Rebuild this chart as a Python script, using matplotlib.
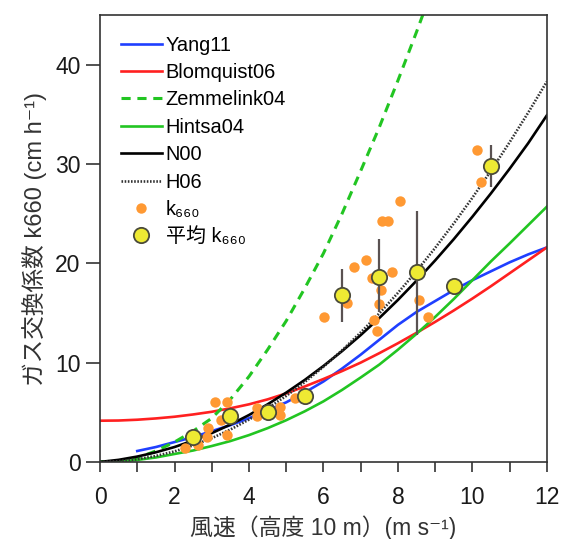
import matplotlib
matplotlib.use('Agg')
import matplotlib.pyplot as plt

plt.rcParams['font.family'] = ['Liberation Sans', 'Noto Sans CJK JP', 'DejaVu Sans']

# --- curvas de modelo ---
u_half = [0, 0.5, 1, 1.5, 2, 2.5, 3, 3.5, 4, 4.5, 5, 5.5, 6, 6.5, 7, 7.5, 8, 8.5,
          9, 9.5, 10, 10.5, 11, 11.5, 12]
yang_u = u_half[2:]
yang_k = [1.1, 1.5, 2.0, 2.5, 3.1, 3.7, 4.4, 5.2, 6.0, 7.0, 8.1, 9.4, 10.8, 12.3,
          13.8, 15.1, 16.2, 17.3, 18.3, 19.2, 20.1, 20.9, 21.6]
blomquist_k = [4.15, 4.17, 4.25, 4.38, 4.55, 4.78, 5.05, 5.4, 5.8, 6.3, 6.9, 7.6, 8.35,
               9.15, 10.0, 10.95, 11.95, 13.0, 14.1, 15.25, 16.45, 17.7, 19.0, 20.3, 21.6]
zemmelink_u = u_half[:19]
zemmelink_k = [0.0, 0.1, 0.4, 1.1, 2.0, 3.1, 4.4, 6.3, 8.6, 11.3, 14.2, 17.5, 21.0,
               25.0, 29.3, 33.7, 38.4, 43.3, 48.4]
hintsa_k = [0.0, 0.05, 0.2, 0.45, 0.8, 1.15, 1.6, 2.1, 2.7, 3.4, 4.2, 5.1, 6.1, 7.25,
            8.5, 9.8, 11.3, 12.9, 14.6, 16.4, 18.3, 20.2, 22.0, 23.85, 25.7]
n00_k = [0.0, 0.21, 0.54, 0.97, 1.50, 2.15, 2.90, 3.76, 4.72, 5.80, 6.98, 8.26, 9.66,
         11.16, 12.77, 14.49, 16.31, 18.25, 20.29, 22.43, 24.69, 27.05, 29.52, 32.10, 34.9]
h06_k = [0.0, 0.07, 0.27, 0.60, 1.06, 1.66, 2.39, 3.26, 4.26, 5.39, 6.65, 8.05, 9.58,
         11.24, 13.03, 14.96, 17.02, 19.22, 21.55, 24.01, 26.6, 29.33, 32.19, 35.18, 38.3]

# --- k660 individuais ---
obs_u = [2.28, 2.64, 2.87, 2.91, 3.09, 3.40, 3.24, 3.40, 4.21, 4.21, 4.84, 4.84, 5.24,
         6.02, 6.63, 6.83, 7.15, 7.30, 7.37, 7.44, 7.49, 7.54, 7.57, 7.73, 7.84, 8.06,
         8.58, 8.82, 10.12, 10.22]
obs_k = [1.4, 1.7, 2.5, 3.4, 6.0, 6.0, 4.2, 2.7, 5.4, 4.6, 5.5, 4.7, 6.4,
         14.6, 16.0, 19.6, 20.3, 18.5, 14.3, 13.2, 15.9, 17.3, 24.3, 24.3, 19.1, 26.3,
         16.3, 14.6, 31.4, 28.2]

# --- médias com barras de erro ---
mean_u = [2.5, 3.5, 4.5, 5.5, 6.5, 7.5, 8.5, 9.5, 10.5]
mean_k = [2.55, 4.6, 5.05, 6.6, 16.8, 18.6, 19.1, 17.7, 29.8]
err_lo = [0.0, 0.0, 0.0, 0.0, 2.7, 3.5, 6.3, 0.0, 2.1]
err_hi = [0.0, 0.0, 0.0, 0.0, 2.6, 3.9, 6.2, 0.0, 2.1]

fig = plt.figure(figsize=(5.62, 5.39), dpi=100)
ax = fig.add_axes([0.178, 0.143, 0.795, 0.829])

ax.plot(yang_u, yang_k, color='#1f3fff', lw=1.9, label='Yang11')
ax.plot(u_half, blomquist_k, color='#ff2020', lw=1.9, label='Blomquist06')
ax.plot(zemmelink_u, zemmelink_k, color='#22c522', lw=2.2, ls=(0, (3, 2.2)), label='Zemmelink04')
ax.plot(u_half, hintsa_k, color='#22c522', lw=1.9, label='Hintsa04')
ax.plot(u_half, n00_k, color='black', lw=1.9, label='N00')
ax.plot(u_half, h06_k, color='#333333', lw=1.9, ls=(0, (0.6, 0.6)), label='H06')

ax.plot(obs_u, obs_k, 'o', color='#ff9933', ms=7.5, mec='none', label='k₆₆₀')
ax.errorbar(mean_u, mean_k, yerr=[err_lo, err_hi], fmt='none', ecolor='#5a5252', elinewidth=1.6, capsize=0)
ax.plot(mean_u, mean_k, 'o', color='#eeea33', ms=11, mec='#4a4a3a', mew=1.3, label='平均 k₆₆₀')

ax.set_xlim(0, 12)
ax.set_ylim(0, 45)
ax.set_xticks([0, 2, 4, 6, 8, 10, 12])
ax.set_xticks(range(0, 13), minor=True)
ax.set_yticks([0, 10, 20, 30, 40])
ax.tick_params(axis='x', which='both', direction='out', length=7, width=1.2, labelsize=16.5, pad=10,
               color='#333333', labelcolor='#1a1a1a')
ax.tick_params(axis='y', direction='out', length=10, width=1.2, labelsize=16.5, pad=4,
               color='#333333', labelcolor='#1a1a1a')
for s in ax.spines.values():
    s.set_linewidth(1.2)
    s.set_color('#333333')

ax.set_xlabel('風速（高度 10 m）(m s⁻¹)', fontsize=16.5, color='#333333', labelpad=5)
ax.set_ylabel('ガス交換係数 k660 (cm h⁻¹)', fontsize=17, color='#333333', labelpad=6)

ax.legend(loc='upper left', frameon=False, fontsize=14.4, handlelength=2.05, handletextpad=0.2,
          labelspacing=0.42, borderaxespad=0.4, bbox_to_anchor=(0.01, 0.99))

plt.savefig('out.png', dpi=100)
plt.close(fig)
